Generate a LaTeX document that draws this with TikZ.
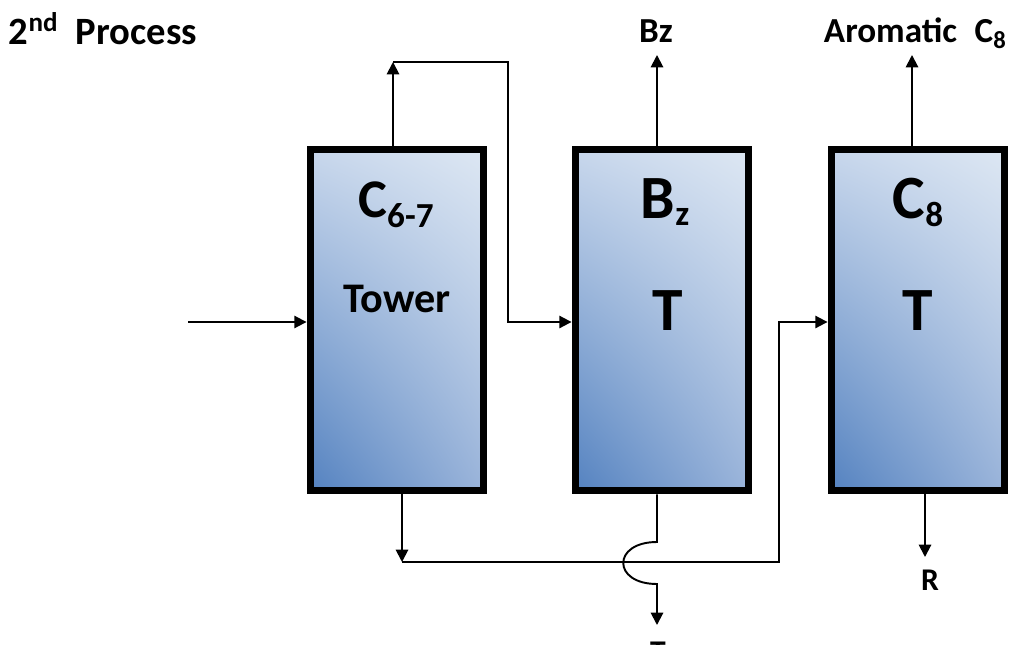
\documentclass[tikz,border=0pt]{standalone}
\usepackage{fontspec}
\setmainfont{Carlito}
\usetikzlibrary{arrows.meta,shadings}
\definecolor{towerul}{HTML}{C8D7EC}
\definecolor{towerur}{HTML}{DDE7F3}
\definecolor{towerll}{HTML}{5482C0}
\definecolor{towerlr}{HTML}{9AB4DA}
\newcommand{\lowsub}[2]{\raisebox{-#1}{\fontsize{20}{20}\selectfont #2}}
\tikzset{
  tower/.style={draw=black, line width=4.5pt, upper left=towerul, upper right=towerur,
    lower left=towerll, lower right=towerlr, minimum width=3.46cm, minimum height=6.82cm, inner sep=0pt},
  biglbl/.style={font=\fontsize{35}{40}\selectfont\bfseries, anchor=base, inner sep=0pt},
  streamlbl/.style={font=\fontsize{20}{24}\selectfont\bfseries, inner sep=0pt}
}
\begin{document}
\begin{tikzpicture}[x=0.02cm, y=-0.02cm, >={Triangle[length=7pt,width=7pt]}, line width=1.1pt]
  \useasboundingbox (0,0) rectangle (1027,645);
  \clip (0,0) rectangle (1027,645);

  % Title
  \node[font=\fontsize{22}{26}\selectfont\bfseries, anchor=base west, inner sep=0pt] (title) at (8,45)
    {2\textsuperscript{nd}\ \ Process};

  % Columns
  \node[tower] (c67) at (397,320) {};
  \node[tower] (bzt) at (662,320) {};
  \node[tower] (c8t) at (918,320) {};

  % Column labels
  \node[biglbl, font=\fontsize{31}{36}\selectfont\bfseries] (c67a) at (396,217) {C\lowsub{6pt}{6-7}};
  \node[biglbl, font=\fontsize{24}{28}\selectfont\bfseries] (c67b) at (397,312) {Tower};
  \node[biglbl] (bzta) at (665,218) {B\lowsub{4pt}{z}};
  \node[biglbl] (bztb) at (668,330) {T};
  \node[biglbl] (c8ta) at (918,218) {C\lowsub{5pt}{8}};
  \node[biglbl] (c8tb) at (918,330) {T};

  % Feed
  \coordinate (feed) at (188,322);
  \draw[->] (feed) -- (feed -| c67.west);

  % Overhead of C6-7 to Bz column
  \coordinate (ovhd) at (393,62);
  \coordinate (bend) at (508,62);
  \draw[->] (ovhd |- c67.north) -- (ovhd);
  \draw[->] (ovhd) -- (bend) -- (bend |- feed) -- (feed -| bzt.west);

  % Products at the top
  \coordinate (bzout) at (657,55);
  \coordinate (aroout) at (912,55);
  \draw[->] (bzout |- bzt.north) -- (bzout);
  \draw[->] (aroout |- c8t.north) -- (aroout);
  \node[streamlbl, anchor=base] (bzlbl) at (656,43) {Bz};
  \node[streamlbl, anchor=base west] (arolbl) at (823,43)
    {Aromatic\hspace{10pt}C\raisebox{-3pt}{\fontsize{14}{14}\selectfont 8}};

  % Bottoms of C6-7 to C8 column
  \coordinate (btm) at (402,562);
  \coordinate (rise) at (779,562);
  \draw[->] (btm |- c67.south) -- (btm);
  \draw[->] (btm) -- (rise) -- (rise |- feed) -- (feed -| c8t.west);

  % Bottom of Bz column, hopping over the line
  \coordinate (hopin) at (657,542);
  \coordinate (hopout) at (657,584);
  \coordinate (tolout) at (657,625);
  \draw[->] (hopin |- bzt.south) -- (hopin) .. controls (612,542) and (612,584) .. (hopout) -- (tolout);
  \node[font=\fontsize{18}{21}\selectfont\bfseries, anchor=base, inner sep=0pt] (tollbl) at (658,662) {T};

  % Residue
  \coordinate (rout) at (925,557);
  \draw[->] (rout |- c8t.south) -- (rout);
  \node[font=\fontsize{18}{21}\selectfont\bfseries, anchor=base, inner sep=0pt] (rlbl) at (930,590) {R};
\end{tikzpicture}
\end{document}
